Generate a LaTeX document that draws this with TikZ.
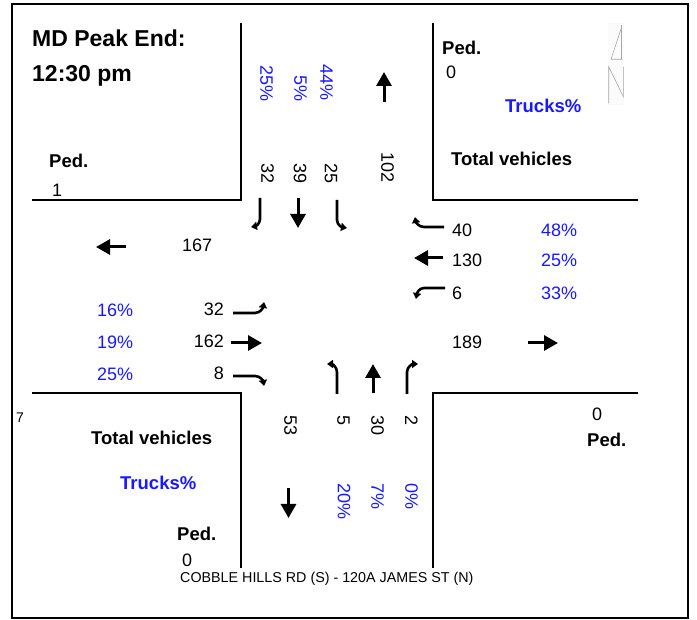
\documentclass[tikz,border=0pt]{standalone}
\usepackage{fontspec}
\setmainfont{Liberation Sans}
\usetikzlibrary{arrows.meta}
\definecolor{pblue}{rgb}{0.1,0.1,1}
\tikzset{
  road/.style={line width=2.4pt, line cap=rect},
  frame/.style={line width=2pt},
  bigarr/.style={line width=3pt, -{Triangle[width=15pt,length=14pt]}},
  hookarr/.style={line width=2.6pt, -{Triangle[width=8pt,length=6pt]}},
  txt/.style={inner sep=0pt, font=\fontsize{18}{20}\selectfont},
  pct/.style={txt, text=pblue},
  bl/.style={inner sep=0pt, font=\fontsize{18.5}{20}\selectfont\bfseries},
  bpct/.style={bl, text=pblue},
  vtxt/.style={txt, rotate=-90},
  vpct/.style={pct, rotate=-90},
  nsym/.style={gray!70, line width=0.6pt}
}
\begin{document}
\begin{tikzpicture}[x=1pt,y=-1pt]
\useasboundingbox (0,0) rectangle (697,620);
% frame
\draw[frame] (12,4) rectangle (688,618);
% road corners
\draw[road] (241,24) -- (241,200) -- (33,200);
\draw[road] (433,24) -- (433,200) -- (637,200);
\draw[road] (33,393) -- (241,393) -- (241,567);
\draw[road] (637,393) -- (433,393) -- (433,567);
% north symbol
\fill[gray!3] (608,23) rectangle (624,105);
\draw[nsym] (621.7,25) -- (621.7,59.3);
\draw[nsym] (621.7,27) -- (611,59.3) -- (622.7,59.3);
\draw[nsym] (608.7,103.3) -- (608.7,66.7) -- (623.3,96.7) -- (623.3,66.7);
% title
\node[inner sep=0pt, font=\fontsize{23}{25}\selectfont\bfseries, anchor=base west] (t1) at (32,47) {MD Peak End:};
\node[inner sep=0pt, font=\fontsize{23}{25}\selectfont\bfseries, anchor=base west] (t2) at (32,82) {12:30 pm};
% NW corner
\node[bl, anchor=base west] (pnw) at (49,168) {Ped.};
\node[txt, anchor=base west] (pnwv) at (52,197) {1};
% NE corner
\node[bl, anchor=base west] (pne) at (442,55) {Ped.};
\node[txt, anchor=base west] (pnev) at (446,79) {0};
\node[bpct, anchor=base west] (tne) at (505,113) {Trucks\%};
\node[bl, anchor=base west] (vne) at (451,166) {Total vehicles};
% SW corner
\node[inner sep=0pt, font=\fontsize{14}{16}\selectfont, anchor=base west] (seven) at (16,423) {7};
\node[bl, anchor=base west] (vsw) at (91,445) {Total vehicles};
\node[bpct, anchor=base west] (tsw) at (120,490) {Trucks\%};
\node[bl, anchor=base west] (psw) at (177,540) {Ped.};
\node[txt, anchor=base west] (pswv) at (182,566) {0};
% SE corner
\node[txt, anchor=base west] (psev) at (592,421) {0};
\node[bl, anchor=base west] (pse) at (587,447) {Ped.};
% caption
\node[inner sep=0pt, font=\fontsize{14.3}{16}\selectfont, anchor=base west] (cap) at (180,583) {COBBLE HILLS RD (S) - 120A JAMES ST (N)};
% north approach
\node[vpct, anchor=east] (n1p) at (266.5,102) {25\%};
\node[vpct, anchor=east] (n2p) at (300.5,102) {5\%};
\node[vpct, anchor=east] (n3p) at (326.5,101) {44\%};
\node[vtxt, anchor=west] (n1) at (267.5,163) {32};
\node[vtxt, anchor=west] (n2) at (300,163) {39};
\node[vtxt, anchor=west] (n3) at (331,163) {25};
\node[vtxt, anchor=west] (nout) at (387.5,152) {102};
\draw[bigarr] (384,102) -- (384,72);
\draw[hookarr] (260,198) -- (260,219) to[out=-90,in=10] (251,227);
\draw[bigarr] (298,198) -- (298,228);
\draw[hookarr] (337,200) -- (337,220) to[out=-90,in=170] (347,228);
% west side
\node[txt, anchor=base west] (wout) at (182,252) {167};
\draw[bigarr] (126,247) -- (96,247);
\node[pct, anchor=base west] (w1p) at (97,317) {16\%};
\node[pct, anchor=base west] (w2p) at (97,349) {19\%};
\node[pct, anchor=base west] (w3p) at (97,381) {25\%};
\node[txt, anchor=base east] (w1) at (224,316) {32};
\node[txt, anchor=base east] (w2) at (224,348) {162};
\node[txt, anchor=base east] (w3) at (224,380) {8};
\draw[hookarr] (233,313) -- (255,313) to[out=0,in=-100] (264,302);
\draw[bigarr] (231,343) -- (262,343);
\draw[hookarr] (233,376) -- (255,376) to[out=0,in=100] (264,386);
% east side
\node[txt, anchor=base west] (e1) at (452,237) {40};
\node[txt, anchor=base west] (e2) at (452,267) {130};
\node[txt, anchor=base west] (e3) at (452,300) {6};
\node[pct, anchor=base west] (e1p) at (541,237) {48\%};
\node[pct, anchor=base west] (e2p) at (541,267) {25\%};
\node[pct, anchor=base west] (e3p) at (541,300) {33\%};
\node[txt, anchor=base west] (eout) at (452,349) {189};
\draw[bigarr] (528,343) -- (558,343);
\draw[hookarr] (444,227) -- (424,227) to[out=180,in=-80] (415,217);
\draw[bigarr] (443,258) -- (414,258);
\draw[hookarr] (445,288) -- (424,288) to[out=180,in=80] (416,299);
% south approach
\node[vtxt, anchor=west] (sout) at (290.5,415) {53};
\node[vtxt, anchor=west] (s1) at (343.5,415) {5};
\node[vtxt, anchor=west] (s2) at (377.5,415) {30};
\node[vtxt, anchor=west] (s3) at (411.5,415) {2};
\node[vpct, anchor=west] (s1p) at (344,483) {20\%};
\node[vpct, anchor=west] (s2p) at (377.5,483) {7\%};
\node[vpct, anchor=west] (s3p) at (411.5,483) {0\%};
\draw[bigarr] (288.5,488) -- (288.5,518);
\draw[hookarr] (337,394) -- (337,372) to[out=90,in=0] (327,364);
\draw[bigarr] (373,393) -- (373,364);
\draw[hookarr] (407,394) -- (407,372) to[out=90,in=180] (418,364);
\end{tikzpicture}
\end{document}
